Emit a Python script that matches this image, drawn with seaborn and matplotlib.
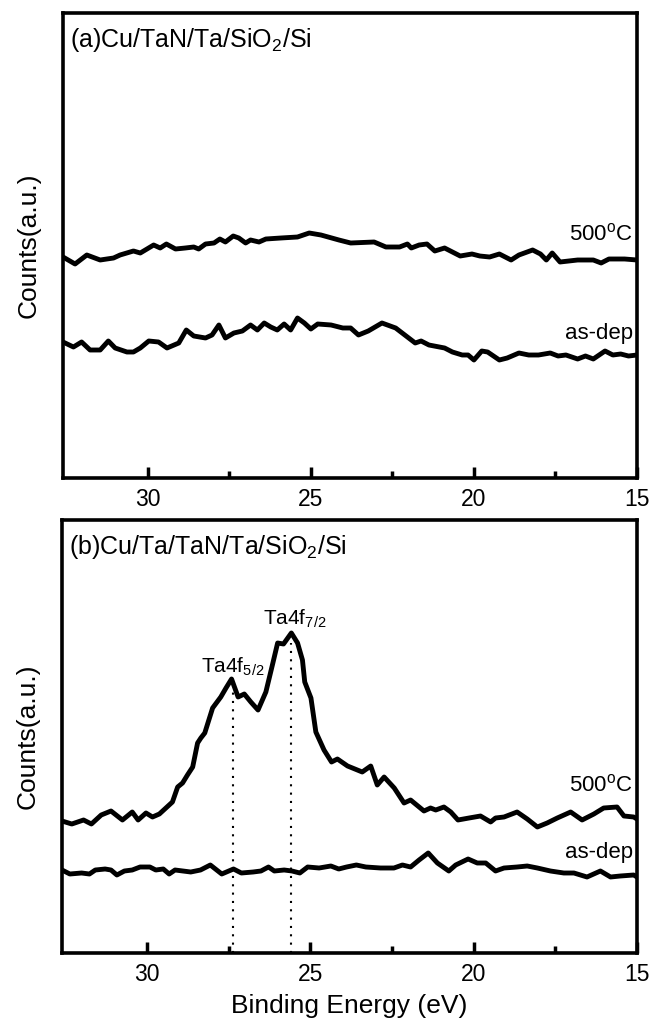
import pandas as pd
import matplotlib
matplotlib.use("Agg")
import matplotlib.pyplot as plt
import seaborn as sns
from matplotlib.ticker import FixedLocator

# binding energy (eV) and counts (a.u.)
# panel (a) Cu/TaN/Ta/SiO2/Si
e_a_500 = [32.6, 32.23, 31.87, 31.46, 31.05, 30.85, 30.44, 30.23, 29.82, 29.62, 29.43, 29.15,
           28.85, 28.59, 28.44, 28.23, 27.97, 27.79, 27.62, 27.38, 27.21, 27.00, 26.85, 26.59,
           26.38, 25.92, 25.41, 25.05, 24.69, 24.14, 23.78, 23.06, 22.70, 22.28, 22.04, 21.92,
           21.68, 21.44, 21.20, 20.90, 20.66, 20.42, 20.06, 19.82, 19.52, 19.22, 18.86, 18.62,
           18.20, 17.96, 17.78, 17.60, 17.36, 16.82, 16.34, 16.10, 15.86, 15.38, 15.0]
c_a_500 = [221, 214, 223, 218, 220, 223, 227, 225, 233, 230, 234, 229,
           230, 231, 229, 234, 235, 239, 236, 242, 240, 235, 238, 236,
           239, 240, 241, 245, 243, 238, 235, 236, 231, 231, 234, 230,
           233, 234, 227, 230, 226, 222, 224, 222, 221, 224, 218, 223,
           228, 224, 218, 225, 216, 218, 218, 215, 219, 219, 218]

e_a_dep = [32.6, 32.28, 32.03, 31.77, 31.46, 31.21, 31.00, 30.64, 30.44, 30.23, 29.97, 29.67,
           29.41, 29.05, 28.82, 28.59, 28.23, 28.03, 27.82, 27.62, 27.36, 27.10, 26.85, 26.64,
           26.43, 26.23, 26.03, 25.82, 25.62, 25.41, 25.20, 25.00, 24.79, 24.38, 24.02, 23.78,
           23.54, 23.24, 22.82, 22.40, 21.80, 21.62, 21.38, 20.90, 20.66, 20.36, 20.18, 20.00,
           19.76, 19.58, 19.22, 18.98, 18.62, 18.32, 18.02, 17.66, 17.42, 17.18, 16.82, 16.58,
           16.34, 16.16, 15.98, 15.74, 15.50, 15.26, 15.0]
c_a_dep = [136, 131, 136, 128, 128, 137, 130, 126, 126, 130, 137, 136,
           130, 135, 148, 142, 140, 143, 153, 140, 145, 147, 153, 148,
           155, 151, 148, 154, 148, 160, 155, 149, 154, 153, 150, 150,
           143, 147, 155, 150, 135, 137, 133, 130, 126, 123, 123, 118,
           127, 126, 118, 120, 125, 123, 123, 125, 122, 123, 119, 122,
           119, 123, 127, 123, 124, 122, 123]

# panel (b) Cu/Ta/TaN/Ta/SiO2/Si
e_b_500 = [32.6, 32.30, 31.94, 31.70, 31.40, 31.10, 30.75, 30.45, 30.27, 30.03, 29.83, 29.62,
           29.42, 29.22, 29.06, 28.91, 28.76, 28.60, 28.45, 28.35, 28.23, 27.99, 27.74, 27.58,
           27.41, 27.21, 27.02, 26.82, 26.60, 26.36, 26.16, 26.00, 25.82, 25.58, 25.39, 25.24,
           25.17, 24.98, 24.83, 24.58, 24.35, 24.17, 23.86, 23.41, 23.15, 22.95, 22.74, 22.43,
           22.13, 21.93, 21.52, 21.32, 21.16, 20.91, 20.70, 20.48, 20.14, 19.79, 19.48, 19.33,
           19.07, 18.67, 18.36, 18.05, 17.75, 17.44, 17.03, 16.68, 16.32, 16.02, 15.61, 15.40,
           15.10, 15.0]
c_b_500 = [132, 129, 133, 129, 138, 142, 133, 141, 133, 140, 136, 139,
           145, 151, 166, 170, 178, 186, 210, 215, 220, 245, 256, 265,
           274, 256, 259, 251, 243, 261, 288, 310, 309, 320, 310, 293,
           271, 255, 221, 203, 191, 194, 187, 181, 187, 168, 176, 165,
           150, 153, 142, 145, 143, 146, 141, 133, 135, 137, 131, 135,
           136, 141, 134, 126, 130, 135, 141, 133, 139, 145, 146, 137,
           136, 134]

e_b_dep = [32.6, 32.36, 32.00, 31.76, 31.58, 31.28, 31.10, 30.92, 30.69, 30.45, 30.21, 29.91,
           29.73, 29.50, 29.32, 29.14, 28.90, 28.66, 28.36, 28.06, 27.71, 27.35, 27.11, 26.75,
           26.51, 26.28, 26.10, 25.80, 25.56, 25.32, 25.08, 24.73, 24.37, 24.13, 23.89, 23.59,
           23.30, 22.85, 22.44, 22.18, 21.93, 21.67, 21.39, 21.11, 20.76, 20.55, 20.17, 19.89,
           19.63, 19.33, 19.07, 18.67, 18.36, 18.05, 17.65, 17.24, 16.93, 16.53, 16.12, 15.81,
           15.51, 15.10, 15.0]
c_b_dep = [83, 79, 80, 79, 83, 84, 83, 78, 82, 83, 86, 86,
           83, 84, 79, 83, 82, 81, 83, 88, 79, 84, 80, 81,
           82, 86, 82, 83, 82, 80, 86, 85, 87, 84, 86, 88,
           86, 85, 85, 88, 86, 93, 100, 90, 82, 88, 94, 90,
           90, 82, 85, 86, 87, 85, 82, 80, 80, 76, 82, 76,
           77, 78, 76]

# Ta 4f peak positions and heights of the dotted markers
peak_e = [27.38, 25.60]
peak_top = [266, 310]
peak_names = ["Ta4f$_{5/2}$", "Ta4f$_{7/2}$"]
peak_label_e = [28.35, 26.46]
peak_label_c = [280, 328]

titles = ["(a)Cu/TaN/Ta/SiO$_2$/Si", "(b)Cu/Ta/TaN/Ta/SiO$_2$/Si"]
ylims = [465, 433]
label_500_c = [244, 168]
label_dep_c = [145, 101]

sns.set_style("white")
plt.rcParams["font.family"] = ["Liberation Sans", "DejaVu Sans"]
plt.rcParams["mathtext.fontset"] = "custom"
plt.rcParams["mathtext.rm"] = "Liberation Sans"
plt.rcParams["mathtext.it"] = "Liberation Sans:italic"
plt.rcParams["mathtext.bf"] = "Liberation Sans:bold"
plt.rcParams["text.color"] = "black"
plt.rcParams["axes.labelcolor"] = "black"
plt.rcParams["xtick.color"] = "black"
plt.rcParams["ytick.color"] = "black"

fig = plt.figure(figsize=(6.57, 10.22), dpi=100)
ax_a = fig.add_axes([63 / 657, 1 - 478 / 1022, 574 / 657, 465 / 1022])
ax_b = fig.add_axes([62 / 657, 1 - 953 / 1022, 575 / 657, 433 / 1022])

df_a = pd.concat([
    pd.DataFrame({"energy": e_a_500, "counts": c_a_500, "sample": "500C"}),
    pd.DataFrame({"energy": e_a_dep, "counts": c_a_dep, "sample": "as-dep"}),
])
df_b = pd.concat([
    pd.DataFrame({"energy": e_b_500, "counts": c_b_500, "sample": "500C"}),
    pd.DataFrame({"energy": e_b_dep, "counts": c_b_dep, "sample": "as-dep"}),
])

for i, (ax, df) in enumerate([(ax_a, df_a), (ax_b, df_b)]):
    sns.lineplot(data=df, x="energy", y="counts", units="sample", estimator=None,
                 color="black", linewidth=3.5, ax=ax, legend=False)
    ax.set_xlim(32.6, 15)
    ax.set_ylim(0, ylims[i])
    ax.set_yticks([])
    ax.xaxis.set_major_locator(FixedLocator([30, 25, 20, 15]))
    ax.xaxis.set_minor_locator(FixedLocator([27.5, 22.5, 17.5]))
    ax.tick_params(axis="x", which="major", direction="in", length=8, width=2.5,
                   labelsize=16.5, pad=7, bottom=True)
    ax.tick_params(axis="x", which="minor", direction="in", length=5, width=2.5, bottom=True)
    for sp in ax.spines.values():
        sp.set_linewidth(2.6)
        sp.set_color("black")
    ax.set_ylabel("Counts(a.u.)", fontsize=19, labelpad=16)
    ax.set_xlabel("")
    ax.text(0.012, 1 - 27 / ylims[i], titles[i], transform=ax.transAxes,
            fontsize=18, va="center", ha="left")
    ax.text(15.12, label_500_c[i], "500$^{\\rm o}$C", fontsize=16, ha="right", va="center")
    ax.text(15.12, label_dep_c[i], "as-dep", fontsize=16, ha="right", va="center")

ax_b.set_xlabel("Binding Energy (eV)", fontsize=19, labelpad=6)
ax_b.vlines(peak_e, 0, peak_top, colors="black", linestyles=(0, (1, 3)), linewidth=1.5)
for name, x, y in zip(peak_names, peak_label_e, peak_label_c):
    ax_b.text(x, y, name, fontsize=15, ha="left", va="baseline")

plt.savefig("out.png", dpi=100)
